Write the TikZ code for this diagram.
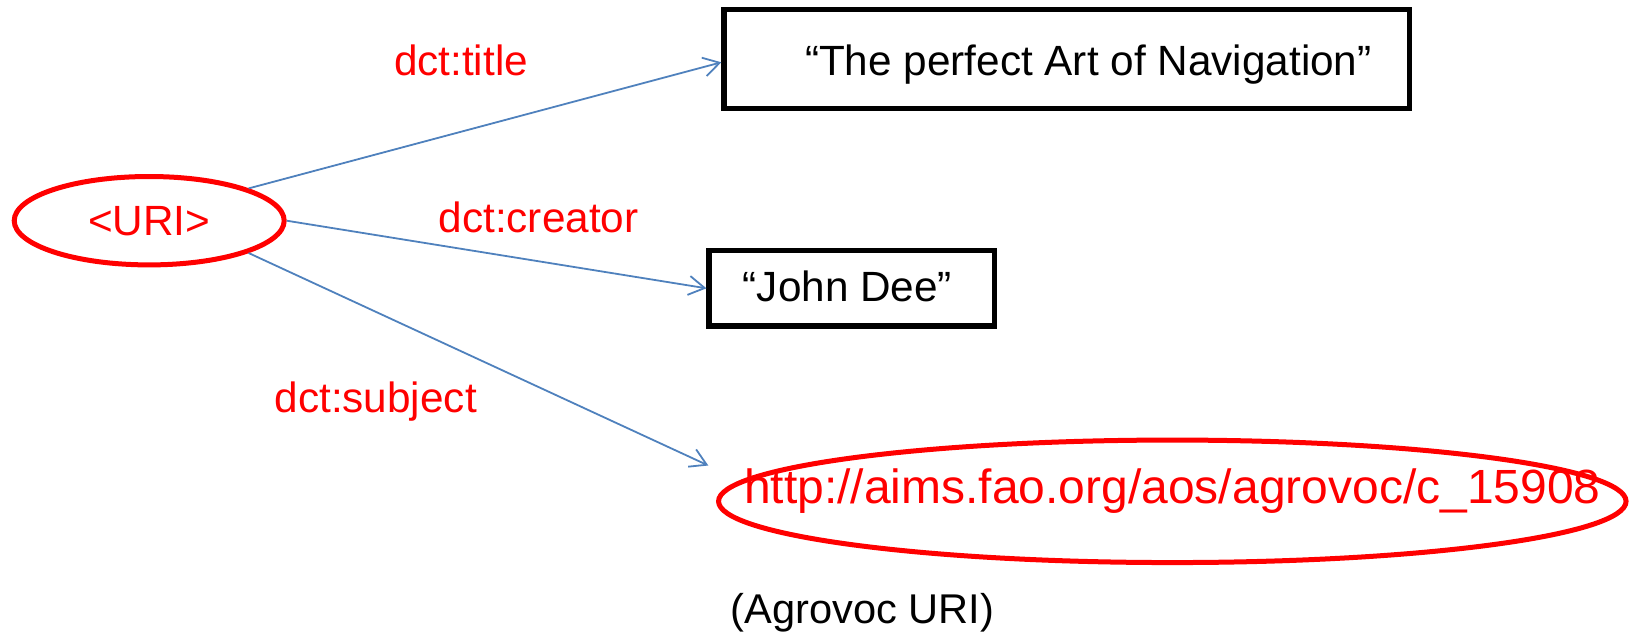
\documentclass[tikz,border=0pt]{standalone}
\usepackage{fontspec}
\setmainfont{Liberation Sans}
\usetikzlibrary{shapes.geometric,arrows.meta,calc}
\definecolor{uriRed}{RGB}{255,0,0}
\definecolor{edgeBlue}{RGB}{79,129,189}
\begin{document}
\begin{tikzpicture}[x=0.5pt,y=-0.5pt,
  lbl/.style={text=uriRed, font=\fontsize{21.15}{25}\selectfont, anchor=base, inner sep=0pt},
  resbox/.style={ellipse, draw=uriRed, line width=2.5pt, inner sep=0pt, text=uriRed},
  litbox/.style={rectangle, draw=black, line width=2.6pt, inner sep=0pt, font=\fontsize{21.15}{25}\selectfont, text depth=0pt},
  rel/.style={draw=edgeBlue, line width=0.9pt, line join=miter, -{Straight Barb[length=8pt,width=9.5pt]}}]

\useasboundingbox (0,0) rectangle (1641,633);

\node[resbox, minimum width=135pt, minimum height=44.2pt, font=\fontsize{21.15}{25}\selectfont] (uri) at (149.2,220.7) {<URI>};

\node[litbox, minimum width=342.75pt, minimum height=49.4pt, text height=16.1pt] (title) at (1066.7,58.9) {\hspace*{21.6pt}“The perfect Art of Navigation”};

\node[litbox, minimum width=142.75pt, minimum height=37.75pt, text height=13.4pt] (jd) at (851.8,288.3) {“John Dee”\hspace*{4.4pt}};

\node[resbox, minimum width=453.75pt, minimum height=61.25pt, font=\fontsize{24}{28}\selectfont, text height=2pt, text depth=0pt] (agro) at (1172.3,501.3) {\makebox[0pt]{http://aims.fao.org/aos/agrovoc/c\_15908}};

\node[lbl] (ltitle) at (461,75) {dct:title};
\node[lbl] (lcreator) at (538.5,232.7) {dct:creator};
\node[lbl] (lsubject) at (375.7,412) {dct:subject};
\node[lbl, text=black, font=\fontsize{20.8}{24}\selectfont] (agnote) at (862.5,623.3) {(Agrovoc URI)};

\coordinate (subjtip) at (708.3,465.5);
\draw[rel] (uri.18) -- ($(title.west)+(0,3.4)$);
\draw[rel] (uri.east) -- (jd.west);
\draw[rel] (uri.-18) -- (subjtip);
\end{tikzpicture}
\end{document}
